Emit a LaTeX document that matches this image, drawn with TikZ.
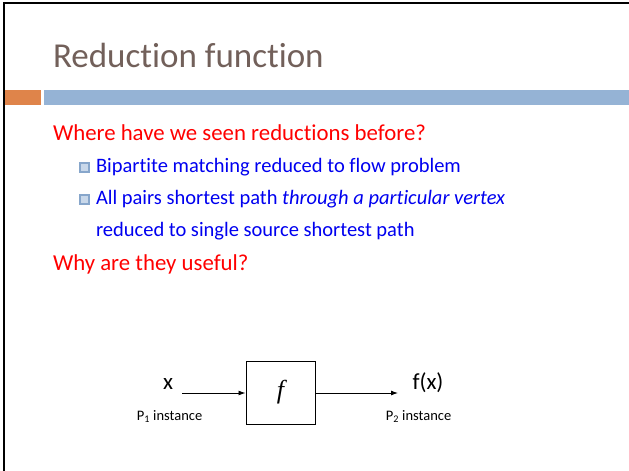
\documentclass[tikz,border=0pt]{standalone}
\usepackage{fontspec}
\setmainfont[Ligatures={NoCommon}]{Carlito}
\newfontfamily\serifit{Liberation Serif}
\usetikzlibrary{arrows.meta}
\definecolor{titlecol}{HTML}{72605A}
\definecolor{redtxt}{HTML}{FF0000}
\definecolor{bluetxt}{HTML}{0000F0}
\definecolor{orangebar}{HTML}{DF844A}
\definecolor{bluebar}{HTML}{95B3D5}
\definecolor{bulletfill}{HTML}{C9D8EA}
\definecolor{bulletedge}{HTML}{87A6CB}
\tikzset{
  txt/.style={anchor=base west, inner sep=0pt, outer sep=0pt},
  titletxt/.style={txt, text=titlecol, font=\fontsize{35}{40}\selectfont},
  lvlone/.style={txt, text=redtxt, font=\fontsize{22.8}{26}\selectfont},
  lvltwo/.style={txt, text=bluetxt, font=\fontsize{20.5}{24}\selectfont},
  sqbullet/.style={draw=bulletedge, line width=2pt, fill=bulletfill, minimum size=9pt, inner sep=0pt},
  fbox/.style={draw=black, line width=1pt, minimum width=69pt, minimum height=63pt, inner sep=0pt},
  lab/.style={anchor=base, inner sep=0pt, text=black, font=\fontsize{23}{25}\selectfont},
  smalllab/.style={anchor=base, inner sep=0pt, text=black, font=\fontsize{14.5}{16}\selectfont},
  conn/.style={line width=0.9pt, -{Latex[length=7pt,width=5pt]}}
}
\begin{document}
\begin{tikzpicture}[x=1pt,y=-1pt]
\useasboundingbox (0,0) rectangle (629,471);
\fill[white] (0,0) rectangle (629,471);
% frame
\draw[line width=2pt] (4,471) -- (4,3) -- (629,3);
% bars
\fill[orangebar] (5,90) rectangle (41,105);
\fill[bluebar] (44,90) rectangle (629,105);
% title
\node[titletxt] (title) at (53,67) {Reduction function};
% text
\node[lvlone] (q1) at (53,140) {Where have we seen reductions before?};
\node[sqbullet] (b1) at (84.5,167.5) {};
\node[lvltwo] (t1) at (96,172) {Bipartite matching reduced to flow problem};
\node[sqbullet] (b2) at (84.5,199.5) {};
\node[lvltwo] (t2) at (96,204) {All pairs shortest path \textit{through a particular vertex}};
\node[lvltwo] (t3) at (96,236) {reduced to single source shortest path};
\node[lvlone] (q2) at (53,270) {Why are they useful?};
% diagram
\node[fbox] (f) at (280.5,392.5) {\serifit\itshape\fontsize{26}{28}\selectfont f};
\node[lab] (x) at (168,389) {x};
\node[lab] (fx) at (428,389) {f(x)};
\coordinate (a1s) at (182,393);
\coordinate (a2e) at (398,393);
\draw[conn] (a1s) -- (f.west |- a1s);
\draw[conn] (f.east |- a2e) -- (a2e);
\node[smalllab] (p1) at (169.5,420) {P\textsubscript{1} instance};
\node[smalllab] (p2) at (418.5,420) {P\textsubscript{2} instance};
\end{tikzpicture}
\end{document}
